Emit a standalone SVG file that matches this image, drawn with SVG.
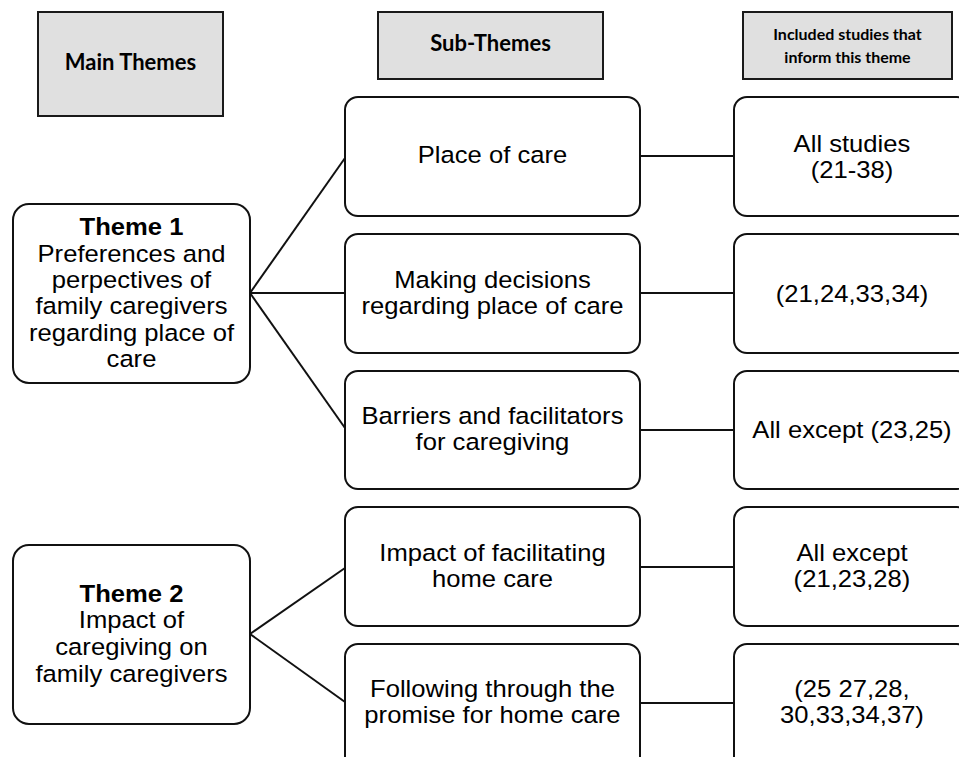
<svg xmlns="http://www.w3.org/2000/svg" width="959" height="757" viewBox="0 0 959 757">
<style>
.hdr{fill:#e0e0e0;stroke:#1a1a1a;stroke-width:2}
.box{fill:#fff;stroke:#111;stroke-width:2}
.ht{font-family:Lato,"Open Sans",sans-serif;font-weight:bold;fill:#000;text-anchor:middle}
.t{font-family:"Liberation Sans",Arial,sans-serif;font-size:23.5px;fill:#000;text-anchor:middle;transform-box:fill-box;transform-origin:center;transform:scaleX(1.09)}
.b{font-weight:bold}
.c{stroke:#111;stroke-width:2;fill:none}
</style>
<rect width="959" height="757" fill="#fff"/>
<g id="connectors">
<line class="c" x1="250" y1="293" x2="345" y2="158"/>
<line class="c" x1="250" y1="293" x2="345" y2="293"/>
<line class="c" x1="250" y1="293" x2="345" y2="428"/>
<line class="c" x1="250" y1="634" x2="345" y2="568"/>
<line class="c" x1="250" y1="634" x2="345" y2="702"/>
<line class="c" x1="640" y1="156" x2="734" y2="156"/>
<line class="c" x1="640" y1="293" x2="734" y2="293"/>
<line class="c" x1="640" y1="430" x2="734" y2="430"/>
<line class="c" x1="640" y1="567" x2="734" y2="567"/>
<line class="c" x1="640" y1="703" x2="734" y2="703"/>
</g>
<g id="hdr-main">
<rect class="hdr" x="38" y="12" width="185" height="104"/>
<text class="ht" x="130.5" y="70" font-size="22">Main Themes</text>
</g>
<g id="hdr-sub">
<rect class="hdr" x="378" y="12" width="225" height="67"/>
<text class="ht" x="490.5" y="51" font-size="22">Sub-Themes</text>
</g>
<g id="hdr-studies">
<rect class="hdr" x="743" y="12" width="209" height="67"/>
<text class="ht" x="847.5" y="40" font-size="16">Included studies that</text>
<text class="ht" x="847.5" y="63" font-size="16">inform this theme</text>
</g>
<g id="theme1">
<rect class="box" x="13" y="204" width="237" height="179" rx="16"/>
<text class="t b" x="131.5" y="235">Theme 1</text>
<text class="t" x="131.5" y="262">Preferences and</text>
<text class="t" x="131.5" y="288">perpectives of</text>
<text class="t" x="131.5" y="314">family caregivers</text>
<text class="t" x="131.5" y="341">regarding place of</text>
<text class="t" x="131.5" y="367">care</text>
</g>
<g id="theme2">
<rect class="box" x="13" y="545" width="237" height="179" rx="16"/>
<text class="t b" x="131.5" y="602">Theme 2</text>
<text class="t" x="131.5" y="628">Impact of</text>
<text class="t" x="131.5" y="655">caregiving on</text>
<text class="t" x="131.5" y="682">family caregivers</text>
</g>
<g id="sub1">
<rect class="box" x="345" y="97" width="295" height="119" rx="13"/>
<text class="t" x="492.5" y="163">Place of care</text>
</g>
<g id="sub2">
<rect class="box" x="345" y="234" width="295" height="119" rx="13"/>
<text class="t" x="492.5" y="288">Making decisions</text>
<text class="t" x="492.5" y="314">regarding place of care</text>
</g>
<g id="sub3">
<rect class="box" x="345" y="371" width="295" height="118" rx="13"/>
<text class="t" x="492.5" y="424">Barriers and facilitators</text>
<text class="t" x="492.5" y="450">for caregiving</text>
</g>
<g id="sub4">
<rect class="box" x="345" y="507" width="295" height="119" rx="13"/>
<text class="t" x="492.5" y="561">Impact of facilitating</text>
<text class="t" x="492.5" y="587">home care</text>
</g>
<g id="sub5">
<rect class="box" x="345" y="644" width="295" height="130" rx="13"/>
<text class="t" x="492.5" y="697">Following through the</text>
<text class="t" x="492.5" y="723">promise for home care</text>
</g>
<g id="study1">
<rect class="box" x="734" y="97" width="236" height="119" rx="13"/>
<text class="t" x="852" y="152">All studies</text>
<text class="t" x="852" y="178">(21-38)</text>
</g>
<g id="study2">
<rect class="box" x="734" y="234" width="236" height="119" rx="13"/>
<text class="t" x="852" y="302">(21,24,33,34)</text>
</g>
<g id="study3">
<rect class="box" x="734" y="371" width="236" height="118" rx="13"/>
<text class="t" x="852" y="438">All except (23,25)</text>
</g>
<g id="study4">
<rect class="box" x="734" y="507" width="236" height="119" rx="13"/>
<text class="t" x="852" y="561">All except</text>
<text class="t" x="852" y="587">(21,23,28)</text>
</g>
<g id="study5">
<rect class="box" x="734" y="644" width="236" height="130" rx="13"/>
<text class="t" x="852" y="697">(25 27,28,</text>
<text class="t" x="852" y="723">30,33,34,37)</text>
</g>
</svg>
